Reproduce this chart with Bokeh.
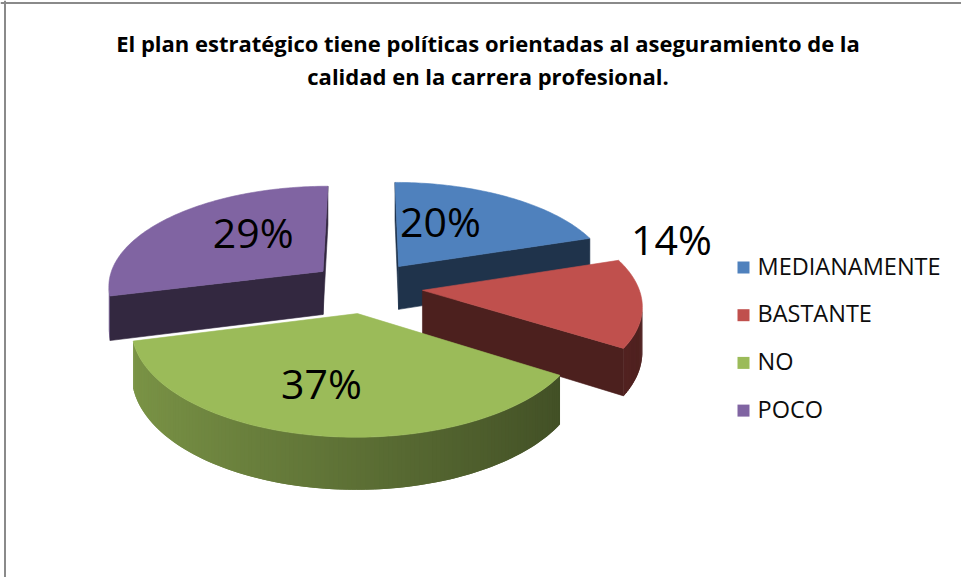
import numpy as np
from bokeh.plotting import figure
from bokeh.models import ColumnDataSource, Range1d, Span
from bokeh.embed import file_html
from bokeh.resources import INLINE
from bokeh.core.properties import value

# ---------------- data ----------------
categories = ["MEDIANAMENTE", "BASTANTE", "NO", "POCO"]
values = [20, 14, 37, 29]
pct_labels = ["20%", "14%", "37%", "29%"]
title_lines = [
    "El plan estratégico tiene políticas orientadas al aseguramiento de la",
    "calidad en la carrera profesional.",
]

# ---------------- style ----------------
colors = ["#4F81BD", "#C0504D", "#9BBB59", "#8064A2"]
FONT = "Open Sans"

# 3-D pie projection parameters (pixels / perspective)
CX, CY = 366.0, 286.5
KX, KY = 216.0, 100.0
PERSP = 0.13
DEPTH = 44.0
EXPLODE = 0.26
# label placement: radius fraction and angular nudge (degrees)
label_r = [0.523, 1.343, 0.640, 0.535]
label_turn = [11.1, 29.6, -4.0, -10.3]


def proj(X, Z, bottom=False):
    X = np.asarray(X, dtype=float)
    Z = np.asarray(Z, dtype=float)
    den = 1.0 - PERSP * Z
    sx = CX + KX * X / den
    sy = CY + (KY * Z + (DEPTH if bottom else 0.0)) / den
    return sx, sy


def shade(hexcol, f):
    h = hexcol.lstrip("#")
    r, g, b = (int(h[i:i + 2], 16) for i in (0, 2, 4))
    return "#%02x%02x%02x" % (int(r * f), int(g * f), int(b * f))


def signed_area(xs, ys):
    a = 0.0
    n = len(xs)
    for i in range(n):
        j = (i + 1) % n
        a += xs[i] * ys[j] - xs[j] * ys[i]
    return a / 2.0


total = float(sum(values))
fracs = [v / total for v in values]

slices = []
cum = 0.0
for i, f in enumerate(fracs):
    a0 = 90.0 - 360.0 * cum
    a1 = a0 - 360.0 * f
    cum += f
    mid = np.radians((a0 + a1) / 2.0)
    ox, oz = EXPLODE * np.cos(mid), -EXPLODE * np.sin(mid)
    slices.append(dict(i=i, a0=a0, a1=a1, mid=mid, ox=ox, oz=oz))

# back-to-front drawing order
order = sorted(range(len(slices)), key=lambda k: slices[k]["oz"])

poly_xs, poly_ys, poly_col, poly_la = [], [], [], []


def add_poly(xs, ys, col, la):
    poly_xs.append([float(v) for v in xs])
    poly_ys.append([float(v) for v in ys])
    poly_col.append(col)
    poly_la.append(la)


for k in order:
    s = slices[k]
    col = colors[k]
    n = max(8, int(abs(s["a0"] - s["a1"])))
    ph = np.radians(np.linspace(s["a0"], s["a1"], n))
    X = s["ox"] + np.cos(ph)
    Z = s["oz"] - np.sin(ph)
    tx, ty = proj(X, Z)
    bx, by = proj(X, Z, bottom=True)
    ctx, cty = (float(v) for v in proj(s["ox"], s["oz"]))
    cbx, cby = (float(v) for v in proj(s["ox"], s["oz"], bottom=True))

    # radial face at start angle
    fx, fy = [ctx, tx[0], bx[0], cbx], [cty, ty[0], by[0], cby]
    if signed_area(fx, fy) < -0.5:
        add_poly(fx, fy, shade(col, 0.40), 1.0)
    # outer curved side (slightly overlapping strips -> smooth gradient)
    for j in range(n - 1):
        fx = [tx[j], tx[j + 1], bx[j + 1], bx[j]]
        fy = [ty[j], ty[j + 1], by[j + 1], by[j]]
        if signed_area(fx, fy) < -0.05:
            j2 = min(j + 2, n - 1)
            pm = (ph[j] + ph[j + 1]) / 2.0
            fct = 0.60 - 0.20 * np.cos(pm)
            add_poly([tx[j], tx[j2], bx[j2], bx[j]],
                     [ty[j], ty[j2], by[j2], by[j]], shade(col, fct), 0.0)
    # radial face at end angle
    fx, fy = [tx[-1], ctx, cbx, bx[-1]], [ty[-1], cty, cby, by[-1]]
    if signed_area(fx, fy) < -0.5:
        add_poly(fx, fy, shade(col, 0.40), 1.0)
    # top face
    add_poly([ctx] + list(tx), [cty] + list(ty), col, 1.0)

W, H = 961, 577
p = figure(width=W, height=H, output_backend="svg", toolbar_location=None,
           x_range=Range1d(0, W), y_range=Range1d(H, 0),
           x_axis_type=None, y_axis_type=None, min_border=0)
p.grid.visible = False
p.outline_line_color = None
p.background_fill_color = "white"
p.border_fill_color = "white"

src = ColumnDataSource(dict(xs=poly_xs, ys=poly_ys, color=poly_col, la=poly_la))
p.patches("xs", "ys", source=src, fill_color="color", line_color="color",
          line_alpha="la", line_width=0.6)

# percentage labels
lx, ly = [], []
for k, s in enumerate(slices):
    ang = s["mid"] + np.radians(label_turn[k])
    X = s["ox"] + label_r[k] * np.cos(ang)
    Z = s["oz"] - label_r[k] * np.sin(ang)
    x, y = proj(X, Z)
    lx.append(float(x))
    ly.append(float(y))
p.text(x=lx, y=ly, text=pct_labels, text_font=value(FONT),
       text_font_size="41px", text_align="center", text_baseline="middle",
       y_offset=-3, text_color="#000000")

# title
p.text(x=[487.5, 487.5], y=[43.5, 76.5], text=title_lines, text_font=value(FONT),
       text_font_size="22px", text_font_style="bold", text_align="center",
       text_baseline="middle", y_offset=-1, text_color="#000000")

# legend (squares + labels)
leg_y = [267 + 47.7 * i for i in range(len(categories))]
p.rect(x=[743] * len(categories), y=leg_y, width=12, height=12,
       fill_color=colors, line_color=None)
p.text(x=[757] * len(categories), y=leg_y, text=categories,
       text_font=value(FONT), text_font_size="23.5px", text_align="left",
       text_baseline="middle", y_offset=-2, text_color="#0d0d0d")

# chart-area border (left and top edges visible)
p.add_layout(Span(location=4.5, dimension="height", line_color="#8a8a8a", line_width=2))
p.add_layout(Span(location=2.5, dimension="width", line_color="#8a8a8a", line_width=2))

open("out.html", "w").write(file_html(p, INLINE))
